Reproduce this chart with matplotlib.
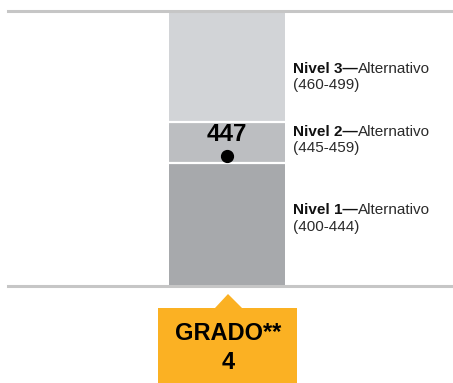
import matplotlib
matplotlib.use("Agg")
import matplotlib.pyplot as plt
from matplotlib.patches import Polygon

plt.rcParams['font.family'] = ['Liberation Sans', 'DejaVu Sans']

# levels of the scale
levels = ['Nivel 1', 'Nivel 2', 'Nivel 3']
level_low = [400, 445, 460]
level_high = [444, 459, 499]
level_colors = ['#a7a9ac', '#bcbec1', '#d2d4d7']
label_y = [424.5, 453, 476]   # where the labels sit on the scale
score = 447
grade = 'GRADO**\n4'

W, H = 453, 383
fig = plt.figure(figsize=(W / 100, H / 100), dpi=100)

# axes placed so the scale maps onto the picture
ax = fig.add_axes([8 / W, (H - 286) / H, (W - 8) / W, (286 - 12) / H])
ax.set_xlim(-0.5 - 161 / 116, -0.5 - 161 / 116 + 445 / 116)
ax.set_ylim(399.5, 499.5)
ax.axis('off')

for lo, hi, c in zip(level_low, level_high, level_colors):
    ax.bar(0, (hi + 0.5) - (lo - 0.5), bottom=lo - 0.5, width=1, color=c,
           linewidth=0, zorder=1)
# white gaps between levels
ax.hlines([h + 0.5 for h in level_high[:-1]], -0.5, 0.5, color='white',
          linewidth=1.6, zorder=2)

# top and bottom rules
line_kw = dict(color='#c6c6c6', linewidth=2.2, zorder=3, clip_on=False)
ax.axhline(499.5 + 0.4, **line_kw)
ax.axhline(399.5, **line_kw)

ax.plot([0], [score], 'o', color='black', markersize=8.5, zorder=4)
ax.annotate(str(score), (0, score), xytext=(0, 7), textcoords='offset points',
            ha='center', va='bottom', fontsize=17.5, fontweight='bold', zorder=4)

for name, lo, hi, y in zip(levels, level_low, level_high, label_y):
    t = ax.text(0.5 + 8 / 116, y, name + '\u2014', fontsize=11, fontweight='bold',
                ha='left', va='bottom', color='#111111')
    ax.annotate('Alternativo', xy=(1, 0), xycoords=t, ha='left', va='bottom',
                fontsize=11, color='#2a2a2a')
    ax.annotate('(%d-%d)' % (lo, hi), xy=(0, 0), xycoords=t, xytext=(0, -1.5),
                textcoords='offset points', fontsize=11, ha='left', va='top',
                color='#2a2a2a')

# orange grade tag with pointer
def px(x, y):
    return (x / W, 1 - y / H)

tag = Polygon([px(158, 308), px(215, 308), px(228, 294), px(242, 308),
               px(297, 308), px(297, 390), px(158, 390)],
              closed=True, transform=fig.transFigure, facecolor='#fbb123',
              edgecolor='none')
fig.patches.append(tag)
fig.text(228 / W, 1 - 348 / H, grade, ha='center', va='center', fontsize=17,
         fontweight='bold', linespacing=1.3)

fig.savefig('out.png', dpi=100)
